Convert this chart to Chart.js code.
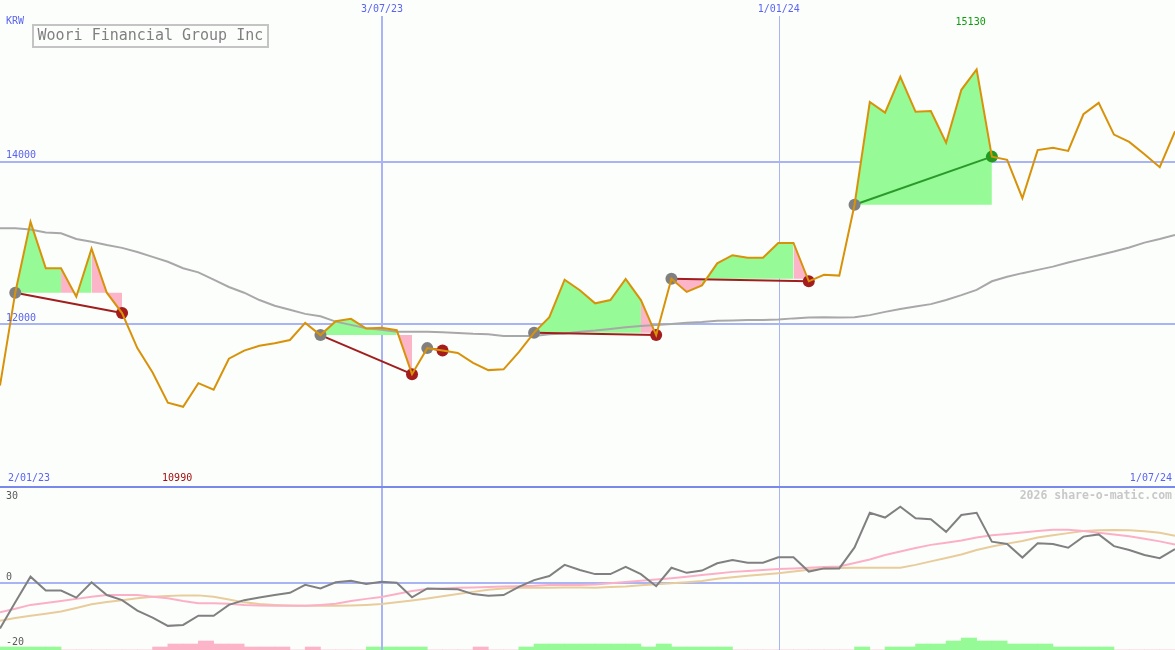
<!DOCTYPE html>
<html>
<head>
<meta charset="utf-8">
<script src="https://cdn.jsdelivr.net/npm/chart.js@4.4.1/dist/chart.umd.min.js"></script>
<style>
  html, body { margin: 0; padding: 0; background: #fcfefc; }
  #wrap { position: relative; width: 1175px; height: 650px; overflow: hidden; }
  #topBox { position: absolute; left: 0; top: 0; width: 1175px; height: 486px; }
  #botBox { position: absolute; left: 0; top: 486px; width: 1175px; height: 164px; }
</style>
</head>
<body>
<div id="wrap">
  <div id="topBox"><canvas id="priceChart"></canvas></div>
  <div id="botBox"><canvas id="oscChart"></canvas></div>
</div>
<script>
// weekly closes, KRW
const price = [11250, 12390, 13260, 12690, 12690, 12340, 12930, 12390, 12140, 11710,
  11410, 11040, 10990, 11280, 11200, 11580, 11680, 11740, 11770, 11810,
  12020, 11870, 12040, 12070, 11950, 11960, 11930, 11390, 11710, 11680,
  11650, 11530, 11440, 11450, 11660, 11900, 12090, 12550, 12420, 12260,
  12300, 12560, 12300, 11870, 12560, 12400, 12480, 12750, 12850, 12820,
  12820, 13000, 13000, 12530, 12610, 12600, 13470, 14730, 14600, 15040,
  14610, 14620, 14230, 14880, 15130, 14060, 14020, 13550, 14140, 14170,
  14130, 14580, 14720, 14330, 14240, 14090, 13930, 14370];

// long moving average (grey)
const avg = [13180, 13180, 13165, 13130, 13120, 13050, 13015, 12975, 12940, 12890,
  12830, 12770, 12690, 12640, 12550, 12460, 12390, 12300, 12230, 12180,
  12130, 12100, 12035, 11995, 11955, 11935, 11910, 11910, 11910, 11905,
  11895, 11885, 11880, 11860, 11860, 11860, 11880, 11890, 11910, 11925,
  11945, 11965, 11980, 11995, 12005, 12020, 12030, 12045, 12050, 12055,
  12055, 12060, 12075, 12085, 12090, 12085, 12090, 12115, 12155, 12190,
  12220, 12250, 12300, 12360, 12425, 12530, 12585, 12630, 12670, 12710,
  12760, 12805, 12850, 12895, 12945, 13005, 13050, 13100];

// trades: entry week / exit week
const buyWeek = [1, 21, 28, 35, 44, 56];
const sellWeek = [8, 27, 29, 43, 53, 65];

// oscillator panel
const oscMain = [-14.2, -6.0, 2.1, -2.3, -2.3, -4.5, 0.3, -3.7, -5.3, -8.6,
  -10.8, -13.4, -13.1, -10.2, -10.2, -6.8, -5.3, -4.5, -3.7, -3.0,
  -0.5, -1.6, 0.3, 0.8, -0.2, 0.5, 0.2, -4.4, -1.6, -1.8,
  -1.9, -3.4, -3.9, -3.7, -1.1, 1.0, 2.3, 5.8, 4.2, 2.9,
  2.9, 5.2, 2.9, -0.9, 4.9, 3.3, 4.0, 6.3, 7.3, 6.5,
  6.5, 8.2, 8.2, 3.7, 4.7, 4.7, 11.3, 22.2, 20.7, 24.1,
  20.5, 20.2, 16.2, 21.5, 22.2, 13.1, 12.4, 8.1, 12.6, 12.4,
  11.2, 14.7, 15.4, 11.7, 10.5, 8.9, 7.9, 10.8];
const oscFast = [-9.1, -8.0, -6.8, -6.2, -5.6, -4.9, -4.2, -3.7, -3.7, -3.7,
  -4.2, -4.7, -5.6, -6.3, -6.3, -6.4, -6.8, -7.0, -7.1, -7.1,
  -7.1, -6.8, -6.4, -5.6, -4.9, -4.3, -3.4, -2.4, -1.8, -1.6,
  -1.4, -1.3, -1.2, -1.0, -0.9, -0.8, -0.5, -0.5, -0.5, -0.4,
  0.0, 0.4, 0.8, 1.2, 1.6, 2.1, 2.6, 3.1, 3.6, 3.9,
  4.2, 4.5, 4.7, 4.9, 5.1, 5.3, 6.4, 7.5, 8.9, 10.0,
  11.1, 12.1, 12.8, 13.5, 14.4, 15.1, 15.5, 16.0, 16.5, 16.9,
  16.9, 16.5, 15.9, 15.4, 14.8, 14.0, 13.2, 12.2];
const oscSlow = [-11.8, -10.9, -10.2, -9.6, -8.9, -7.8, -6.6, -5.9, -5.3, -4.7,
  -4.2, -4.0, -3.8, -3.8, -4.2, -5.1, -6.0, -6.5, -6.8, -7.0,
  -7.1, -7.1, -7.1, -7.0, -6.8, -6.5, -6.0, -5.4, -4.8, -4.1,
  -3.4, -2.7, -2.0, -1.6, -1.4, -1.4, -1.4, -1.3, -1.3, -1.4,
  -1.2, -1.0, -0.6, -0.3, 0.0, 0.3, 0.7, 1.4, 1.9, 2.4,
  2.8, 3.2, 3.7, 4.3, 4.6, 4.8, 4.9, 4.9, 4.9, 4.9,
  5.8, 6.9, 8.0, 9.1, 10.5, 11.6, 12.5, 13.3, 14.4, 15.1,
  15.8, 16.5, 16.7, 16.8, 16.7, 16.4, 15.9, 15.0];
// bottom strip: + green, - pink
const strip = [1, 1, 1, 1, 0, 0, 0, 0, 0, 0,
  -1, -2, -2, -3, -2, -2, -1, -1, -1, 0,
  -1, 0, 0, 0, 1, 1, 1, 1, 0, 0,
  0, -1, 0, 0, 1, 2, 2, 2, 2, 2,
  2, 2, 1, 2, 1, 1, 1, 1, 0, 0,
  0, 0, 0, 0, 0, 0, 1, 0, 1, 1,
  2, 2, 3, 4, 3, 3, 2, 2, 2, 1,
  1, 1, 1, 0, 0, 0, 0, 0];

// axis labels
const gridWeeks = [25, 51];
const gridWeekLabels = ['3/07/23', '1/01/24'];
const firstDate = '2/01/23';
const lastDate = '1/07/24';
const priceTicks = [12000, 14000];
const oscTicks = [30, 0, -20];
const title = 'Woori Financial Group Inc';
const currency = 'KRW';

const weeks = price.map((_, i) => i);

const BG = '#fcfefc';
const GRID = '#a8b4f4';
const SEP = '#7888ec';
const BLUE = '#5a64f0';
const ORANGE = '#d8920a';
const GAIN = '#96fa96';
const LOSS = '#fcb4c8';
const MONO = '"DejaVu Sans Mono", monospace';
const gridWeekWidth = [2, 1];

const datasets = [];
datasets.push({ label: 'price', data: price, borderColor: ORANGE, borderWidth: 2, pointRadius: 0, order: 0 });
datasets.push({ label: 'avg', data: avg, borderColor: '#a8a8a8', borderWidth: 2, pointRadius: 0, order: 3 });

buyWeek.forEach((b, k) => {
  const s = sellWeek[k];
  const entry = price[b];
  const lvl = datasets.length;
  datasets.push({
    label: 'entry' + k,
    data: price.map((_, i) => (i >= b && i <= s ? entry : null)),
    borderWidth: 0, pointRadius: 0, order: 6
  });
  datasets.push({
    label: 'run' + k,
    data: price.map((v, i) => (i >= b && i <= s ? v : null)),
    borderWidth: 0, pointRadius: 0, order: 5,
    fill: lvl,
    backgroundColor: GAIN,
    segment: { backgroundColor: c => (c.p1.parsed.y > entry ? GAIN : LOSS) }
  });
  datasets.push({
    label: 'trade' + k,
    data: price.map((v, i) => (i === b || i === s ? v : null)),
    spanGaps: true,
    borderColor: price[s] > entry ? '#2a9a2a' : '#a01e1e',
    borderWidth: 2, pointRadius: 0, order: 2
  });
});

datasets.push({
  label: 'buys',
  data: price.map((v, i) => (buyWeek.includes(i) ? v : null)),
  showLine: false, pointRadius: 6, pointBorderWidth: 0,
  pointBackgroundColor: '#808080', order: 1
});
datasets.push({
  label: 'sells',
  data: price.map((v, i) => (sellWeek.includes(i) ? v : null)),
  showLine: false, pointRadius: 6, pointBorderWidth: 0,
  pointBackgroundColor: c => {
    const k = sellWeek.indexOf(c.dataIndex);
    return k >= 0 && price[c.dataIndex] > price[buyWeek[k]] ? '#229a22' : '#a41c1c';
  },
  order: 1
});

function text(ctx, str, x, y, color, align, font) {
  ctx.font = font || '10px ' + MONO;
  ctx.fillStyle = color;
  ctx.textAlign = align || 'left';
  ctx.textBaseline = 'middle';
  ctx.fillText(str, x, y);
}

// vertical date lines, shared by both panels
function weekLines(ctx, x, top, bottom) {
  ctx.save();
  ctx.strokeStyle = GRID;
  gridWeeks.forEach((w, k) => {
    const wdt = gridWeekWidth[k];
    const px = wdt === 2 ? Math.round(x.getPixelForValue(w) + 0.5) : Math.ceil(x.getPixelForValue(w)) + 0.5;
    ctx.lineWidth = wdt;
    ctx.beginPath(); ctx.moveTo(px, top); ctx.lineTo(px, bottom); ctx.stroke();
  });
  ctx.restore();
}

const topDecor = {
  id: 'topDecor',
  beforeDatasetsDraw(chart) {
    const { ctx, chartArea: a, scales: { x, y } } = chart;
    ctx.save();
    ctx.strokeStyle = GRID;
    ctx.lineWidth = 2;
    priceTicks.forEach(v => {
      const py = Math.round(y.getPixelForValue(v));
      ctx.beginPath(); ctx.moveTo(a.left, py); ctx.lineTo(a.right, py); ctx.stroke();
    });
    ctx.restore();
    weekLines(ctx, x, 16, a.bottom);
  },
  afterDraw(chart) {
    const { ctx, chartArea: a, scales: { x, y } } = chart;
    ctx.save();
    text(ctx, currency, 6, 21, BLUE);
    gridWeeks.forEach((w, k) => text(ctx, gridWeekLabels[k], x.getPixelForValue(w) + 0.5, 9, BLUE, 'center'));
    priceTicks.forEach(v => text(ctx, String(v), 6, y.getPixelForValue(v) - 6, BLUE));
    text(ctx, firstDate, 8, a.bottom - 8, BLUE);
    text(ctx, lastDate, a.right - 3, a.bottom - 8, BLUE, 'right');
    const hi = price.indexOf(Math.max(...price));
    const lo = price.indexOf(Math.min(...price));
    text(ctx, String(price[hi]), x.getPixelForValue(hi) - 6, 22, '#109a10', 'center');
    text(ctx, String(price[lo]), x.getPixelForValue(lo) - 6, a.bottom - 8, '#a01010', 'center');
    // title box
    ctx.fillStyle = BG;
    ctx.fillRect(33, 25, 235, 22);
    ctx.strokeStyle = '#c4c4c4';
    ctx.lineWidth = 2;
    ctx.strokeRect(33, 25, 235, 22);
    text(ctx, title, 37.5, 36.5, '#808080', 'left', '15px ' + MONO);
    ctx.restore();
  }
};

new Chart(document.getElementById('priceChart'), {
  type: 'line',
  data: { labels: weeks, datasets },
  options: {
    responsive: true,
    maintainAspectRatio: false,
    animation: false,
    events: [],
    layout: { padding: 0, autoPadding: false },
    elements: { line: { tension: 0 } },
    plugins: { legend: { display: false }, tooltip: { enabled: false } },
    scales: {
      x: { type: 'linear', min: 0, max: 77, display: false },
      y: { min: 10018, max: 15982, display: false }
    }
  },
  plugins: [topDecor]
});

const oscDecor = {
  id: 'oscDecor',
  beforeDatasetsDraw(chart) {
    const { ctx, chartArea: a, scales: { y } } = chart;
    ctx.save();
    ctx.strokeStyle = GRID;
    ctx.lineWidth = 2;
    const py = Math.round(y.getPixelForValue(0));
    ctx.beginPath(); ctx.moveTo(a.left, py); ctx.lineTo(a.right, py); ctx.stroke();
    ctx.restore();
  },
  afterDatasetDraw(chart, args) {
    if (args.meta.type !== 'bar') return;
    const { chartArea: a, scales: { x } } = chart;
    weekLines(chart.ctx, x, a.top, a.bottom);
  },
  afterDraw(chart) {
    const { ctx, chartArea: a } = chart;
    ctx.save();
    ctx.fillStyle = SEP;
    ctx.fillRect(a.left, 0, a.right - a.left, 2);
    text(ctx, String(oscTicks[0]), 6, 10.5, '#5a5a5a');
    text(ctx, String(oscTicks[1]), 6, 91.5, '#5a5a5a');
    text(ctx, String(oscTicks[2]), 6, 156, '#5a5a5a');
    text(ctx, '2026 share-o-matic.com', a.right - 3, 10.5, '#c8c8c8', 'right', 'bold 11.5px ' + MONO);
    ctx.restore();
  }
};

new Chart(document.getElementById('oscChart'), {
  type: 'line',
  data: {
    labels: weeks,
    datasets: [
      { label: 'main', data: oscMain, borderColor: '#808080', borderWidth: 2, pointRadius: 0, order: 0 },
      { label: 'fast', data: oscFast, borderColor: '#fcb0c8', borderWidth: 2, pointRadius: 0, order: 1 },
      { label: 'slow', data: oscSlow, borderColor: '#e8cc9c', borderWidth: 2, pointRadius: 0, order: 2 },
      {
        type: 'bar', label: 'strip', yAxisID: 'yh', order: 5,
        data: strip.map((v, i) => ({ x: i + 0.5, y: Math.abs(v) })),
        backgroundColor: c => (strip[c.dataIndex] > 0 ? GAIN : LOSS),
        borderWidth: 0, barPercentage: 1, categoryPercentage: 1
      }
    ]
  },
  options: {
    responsive: true,
    maintainAspectRatio: false,
    animation: false,
    events: [],
    layout: { padding: 0, autoPadding: false },
    elements: { line: { tension: 0 } },
    plugins: { legend: { display: false }, tooltip: { enabled: false } },
    scales: {
      x: { type: 'linear', min: 0, max: 77, offset: false, display: false },
      y: { min: -21, max: 30.64, display: false },
      yh: { min: 0, max: 54.67, display: false }
    }
  },
  plugins: [oscDecor]
});
</script>
</body>
</html>
